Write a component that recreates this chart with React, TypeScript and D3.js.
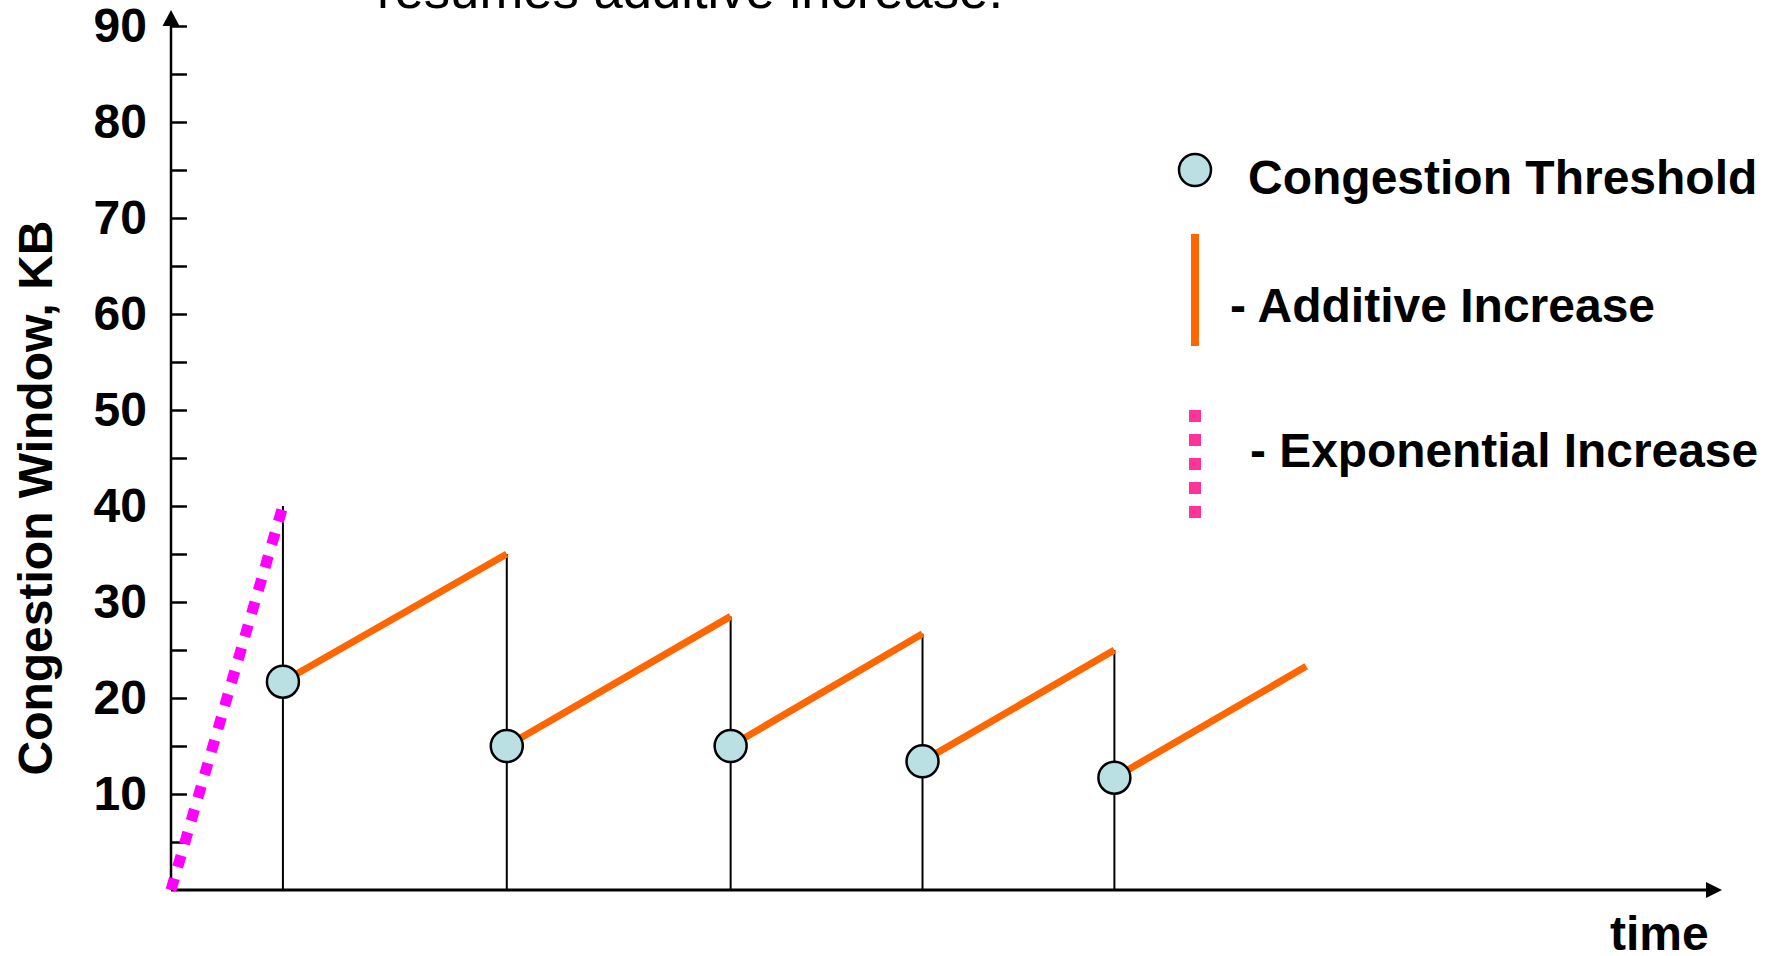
import React, { useEffect, useRef } from "react";
import * as d3 from "d3";

// TCP congestion window: slow start, then loss events + additive increase
const slowStartTimes = [0, 3.5];
const slowStartWindows = [0, 40];

// each loss: when it happens and the window size it reached
const lossTimes = [3.5, 10.5, 17.5, 23.5, 29.5];
const peakWindows = [40, 35, 28.5, 26.7, 25];
// new threshold set after each loss
const thresholds = [21.7, 15, 15, 13.4, 11.7];
// where the last additive increase stops
const lastTime = 35.5;
const lastWindow = 23.3;

const yTicks = [5, 10, 15, 20, 25, 30, 35, 40, 45, 50, 55, 60, 65, 70, 75, 80, 85, 90];

const sizes = { width: 1775, height: 956 };
const font = "'Liberation Sans', Arial, Helvetica, sans-serif";

const ORANGE = "#ff6600";
const MAGENTA = "#ff00ff";
const PINK = "#ff3399";
const DOT = "#bbe0e3";

export default function App() {
  const ref = useRef<SVGSVGElement>(null);

  useEffect(() => {
    const svg = d3.select(ref.current);
    svg.selectAll("*").remove();

    const x = d3.scaleLinear().domain([0, 48.5]).range([171, 1722]);
    const y = d3.scaleLinear().domain([0, 90]).range([890, 26]);

    // heading text cut off at the top of the slide
    svg.append("text")
      .attr("x", 377).attr("y", 8)
      .attr("font-family", font).attr("font-size", 52)
      .attr("textLength", 626).attr("lengthAdjust", "spacingAndGlyphs")
      .text("resumes additive increase.");

    // y axis: ticks point inward, labels every 10
    const yAxis = d3.axisLeft(y)
      .tickValues(yTicks)
      .tickSizeInner(-16)
      .tickSizeOuter(0)
      .tickPadding(24)
      .tickFormat((d) => (+d % 10 === 0 ? String(d) : ""));

    const gy = svg.append("g").attr("transform", `translate(${x(0)},0)`).call(yAxis);
    gy.select(".domain").remove();
    gy.selectAll("line").attr("stroke", "#000").attr("stroke-width", 2.5);
    gy.selectAll("text")
      .attr("fill", "#000")
      .attr("font-family", font)
      .attr("font-size", 48)
      .attr("font-weight", "bold");

    // axis lines with arrow heads
    const axes = svg.append("g").attr("fill", "#000");
    axes.append("line")
      .attr("x1", x(0)).attr("y1", y(0))
      .attr("x2", x(0)).attr("y2", y(90))
      .attr("stroke", "#000").attr("stroke-width", 2.5);
    axes.append("path")
      .attr("d", `M${x(0)},${y(90) - 16} L${x(0) - 8.5},${y(90)} L${x(0) + 8.5},${y(90)} Z`);
    axes.append("line")
      .attr("x1", x(0)).attr("y1", y(0))
      .attr("x2", x(48.5) - 16).attr("y2", y(0))
      .attr("stroke", "#000").attr("stroke-width", 3);
    axes.append("path")
      .attr("d", `M${x(48.5)},${y(0)} L${x(48.5) - 16},${y(0) - 8} L${x(48.5) - 16},${y(0) + 8} Z`);

    // drops at each loss
    svg.append("g")
      .selectAll("line")
      .data(lossTimes)
      .join("line")
        .attr("x1", (d) => x(d)).attr("x2", (d) => x(d))
        .attr("y1", y(0))
        .attr("y2", (d, i) => y(peakWindows[i]))
        .attr("stroke", "#000")
        .attr("stroke-width", 2);

    // slow start (exponential increase)
    const slowStart = slowStartTimes.map((t, i) => [x(t), y(slowStartWindows[i])] as [number, number]);
    svg.append("path")
      .attr("d", d3.line()(slowStart))
      .attr("fill", "none")
      .attr("stroke", MAGENTA)
      .attr("stroke-width", 11)
      .attr("stroke-dasharray", "12 12");

    // additive increase after each threshold
    const segments = lossTimes.map((t, i) => ({
      x1: x(t),
      y1: y(thresholds[i]),
      x2: x(i + 1 < lossTimes.length ? lossTimes[i + 1] : lastTime),
      y2: y(i + 1 < peakWindows.length ? peakWindows[i + 1] : lastWindow),
    }));
    svg.append("g")
      .selectAll("line")
      .data(segments)
      .join("line")
        .attr("x1", (d) => d.x1).attr("y1", (d) => d.y1)
        .attr("x2", (d) => d.x2).attr("y2", (d) => d.y2)
        .attr("stroke", ORANGE)
        .attr("stroke-width", 7);

    // threshold dots
    svg.append("g")
      .selectAll("circle")
      .data(lossTimes)
      .join("circle")
        .attr("cx", (d) => x(d))
        .attr("cy", (d, i) => y(thresholds[i]))
        .attr("r", 16)
        .attr("fill", DOT)
        .attr("stroke", "#000")
        .attr("stroke-width", 2.5);

    // axis titles
    svg.append("text")
      .attr("transform", "translate(52,498) rotate(-90)")
      .attr("text-anchor", "middle")
      .attr("font-family", font).attr("font-size", 48).attr("font-weight", "bold")
      .text("Congestion Window, KB");
    svg.append("text")
      .attr("x", 1610).attr("y", 950)
      .attr("font-family", font).attr("font-size", 48).attr("font-weight", "bold")
      .text("time");

    // legend
    const legend = svg.append("g")
      .attr("font-family", font).attr("font-size", 48).attr("font-weight", "bold");
    legend.append("circle")
      .attr("cx", 1195).attr("cy", 170).attr("r", 16)
      .attr("fill", DOT).attr("stroke", "#000").attr("stroke-width", 2.5);
    legend.append("text").attr("x", 1248).attr("y", 194).text("Congestion Threshold");
    legend.append("line")
      .attr("x1", 1195).attr("x2", 1195).attr("y1", 234).attr("y2", 346)
      .attr("stroke", ORANGE).attr("stroke-width", 8);
    legend.append("text").attr("x", 1230).attr("y", 322).text("- Additive Increase");
    legend.append("line")
      .attr("x1", 1195).attr("x2", 1195).attr("y1", 410).attr("y2", 518)
      .attr("stroke", PINK).attr("stroke-width", 12)
      .attr("stroke-dasharray", "12 12");
    legend.append("text")
      .attr("x", 1250).attr("y", 467)
      .attr("textLength", 508).attr("lengthAdjust", "spacingAndGlyphs")
      .text("- Exponential Increase");
  }, []);

  return (
    <svg
      ref={ref}
      width={sizes.width}
      height={sizes.height}
      style={{ position: "absolute", left: 0, top: 0, background: "#fff" }}
    />
  );
}
